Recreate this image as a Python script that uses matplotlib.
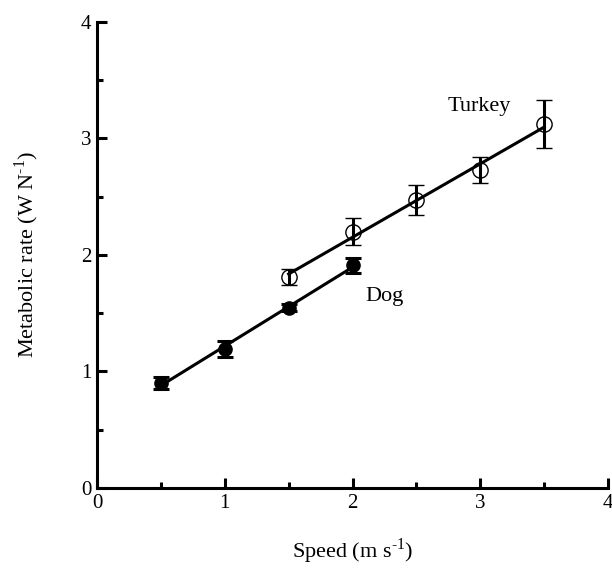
import numpy as np
import matplotlib
matplotlib.use("Agg")
import matplotlib.pyplot as plt
from matplotlib.ticker import MultipleLocator

plt.rcParams["font.family"] = ["Liberation Serif", "DejaVu Serif"]
plt.rcParams["mathtext.fontset"] = "custom"
plt.rcParams["mathtext.rm"] = "Liberation Serif"

# dog (filled) and turkey (open)
dog_speed = [0.5, 1.0, 1.5, 2.0]
dog_rate = [0.90, 1.19, 1.545, 1.91]
dog_err = [0.05, 0.067, 0.03, 0.065]

turkey_speed = [1.5, 2.0, 2.5, 3.0, 3.5]
turkey_rate = [1.81, 2.20, 2.47, 2.73, 3.12]
turkey_err = [0.07, 0.113, 0.125, 0.11, 0.207]

fig = plt.figure(figsize=(6.12, 5.68), dpi=100)
ax = fig.add_axes([0.1585, 0.1408, 0.835, 0.821])

# regression lines
for sx, sy in [(dog_speed, dog_rate), (turkey_speed, turkey_rate)]:
    k, b = np.polyfit(sx, sy, 1)
    xx = np.array([sx[0], sx[-1]])
    ax.plot(xx, k * xx + b, color="black", lw=2.2, zorder=2)

ax.errorbar(dog_speed, dog_rate, yerr=dog_err, fmt="o", color="black",
            mfc="black", mec="black", ms=9.5, elinewidth=2.2, capsize=5.5,
            capthick=2.2, zorder=3)
ax.errorbar(turkey_speed, turkey_rate, yerr=turkey_err, fmt="o", color="black",
            mfc="none", mec="black", ms=11, mew=1.0, elinewidth=2.2,
            capsize=5.5, capthick=2.2, zorder=3)

ax.text(2.99, 3.27, "Turkey", fontsize=16, ha="center", va="center")
ax.text(2.25, 1.64, "Dog", fontsize=16, ha="center", va="center")

ax.set_xlim(0, 4)
ax.set_ylim(0, 4)
ax.xaxis.set_major_locator(MultipleLocator(1))
ax.yaxis.set_major_locator(MultipleLocator(1))
ax.xaxis.set_minor_locator(MultipleLocator(0.5))
ax.yaxis.set_minor_locator(MultipleLocator(0.5))
ax.tick_params(which="major", direction="in", length=7, width=2.2,
               labelsize=15, pad=4)
ax.tick_params(which="minor", direction="in", length=4.5, width=2.2)
for s in ["top", "right"]:
    ax.spines[s].set_visible(False)
for s in ["left", "bottom"]:
    ax.spines[s].set_linewidth(2.2)

ax.set_xlabel(r"Speed (m s$^{\text{-1}}$)", fontsize=16, labelpad=17)
ax.set_ylabel(r"Metabolic rate (W N$^{\text{-1}}$)", fontsize=16,
              labelpad=29)

fig.savefig("out.png", dpi=100)
